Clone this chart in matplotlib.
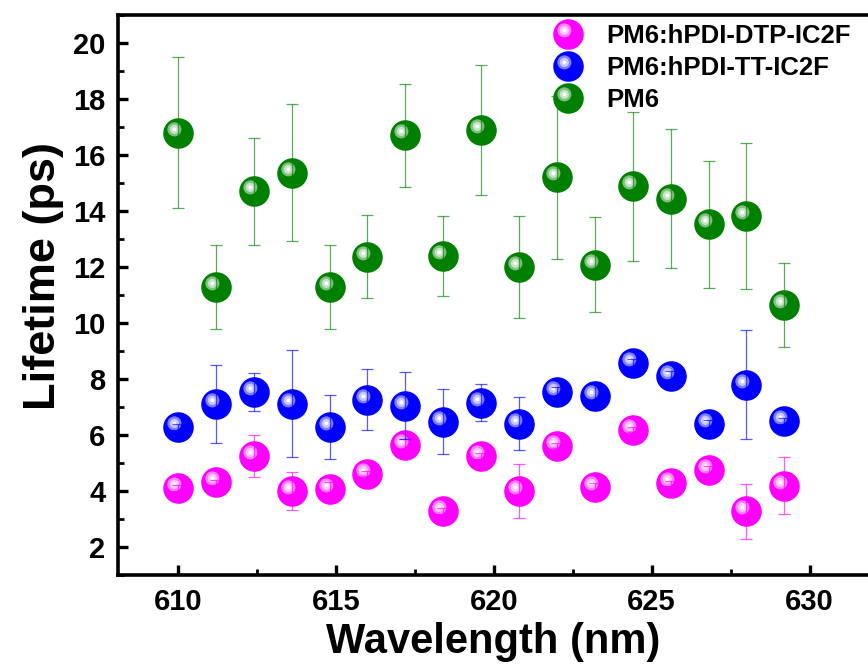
import numpy as np
import matplotlib
matplotlib.use("Agg")
import matplotlib.pyplot as plt
from matplotlib.path import Path
from matplotlib.legend_handler import HandlerTuple
from matplotlib.colors import to_rgb

plt.rcParams['font.family'] = ['Liberation Sans', 'DejaVu Sans']
plt.rcParams['font.weight'] = 'bold'

# ---------------- data ----------------
wavelength = [610.0, 611.2, 612.4, 613.6, 614.8, 616.0, 617.2, 618.4, 619.6,
              620.8, 622.0, 623.2, 624.4, 625.6, 626.8, 628.0, 629.2]

dtp_life = [4.11, 4.31, 5.25, 4.00, 4.08, 4.62, 5.65, 3.29, 5.25,
            4.01, 5.62, 4.13, 6.19, 4.27, 4.76, 3.27, 4.19]
dtp_err = [0.10, 0.10, 0.76, 0.67, 0.25, 0.10, 0.20, 0.10, 0.10,
           0.96, 0.10, 0.15, 0.10, 0.10, 0.15, 0.99, 1.02]

tt_life = [6.29, 7.11, 7.54, 7.12, 6.29, 7.26, 7.05, 6.48, 7.16,
           6.41, 7.55, 7.39, 8.58, 8.12, 6.40, 7.80, 6.51]
tt_err = [0.10, 1.39, 0.68, 1.90, 1.13, 1.08, 1.20, 1.15, 0.66,
          0.94, 0.15, 0.50, 0.15, 0.15, 0.15, 1.96, 0.10]

pm6_life = [16.80, 11.30, 14.70, 15.37, 11.30, 12.37, 16.70, 12.40, 16.90,
            12.00, 15.20, 12.08, 14.88, 14.44, 13.52, 13.83, 10.65]
pm6_err = [2.70, 1.50, 1.90, 2.45, 1.50, 1.48, 1.85, 1.43, 2.33,
           1.83, 2.90, 1.70, 2.65, 2.48, 2.27, 2.60, 1.50]

series = [
    ("PM6:hPDI-DTP-IC2F", dtp_life, dtp_err, "#ff00ff"),
    ("PM6:hPDI-TT-IC2F", tt_life, tt_err, "#0000ff"),
    ("PM6", pm6_life, pm6_err, "#008000"),
]


def spot(cx, cy, r):
    # offset circle marker; two corner moves fix the marker scale
    c = Path.circle((cx, cy), r)
    verts = np.vstack([[[-1, -1]], [[1, 1]], c.vertices])
    codes = [Path.MOVETO, Path.MOVETO] + list(c.codes)
    return Path(verts, codes)


def mix(col, f):
    c = np.array(to_rgb(col))
    return tuple(c + (1 - c) * f)


MS = 22
hl = [(0.46, 0.5), (0.30, 0.78), (0.13, 1.0)]

fig = plt.figure(figsize=(8.68, 6.69), dpi=100)
ax = fig.add_axes([118 / 868, 94 / 669, 750 / 868, 560 / 669])

handles = []
for label, y, e, col in series:
    parts = [ax.plot(wavelength, y, 'o', ms=MS, color=col, mew=0, zorder=3)[0]]
    for r, f in hl:
        parts.append(ax.plot(wavelength, y, ls='none', marker=spot(-0.27, 0.27, r),
                             ms=MS, color=mix(col, f), mew=0, zorder=4)[0])
    ax.errorbar(wavelength, y, yerr=e, fmt='none', ecolor=col, elinewidth=0.9,
                capsize=4.5, capthick=0.9, alpha=0.65, zorder=5)
    handles.append((tuple(parts), label))

ax.legend([h for h, _ in handles], [l for _, l in handles],
          handler_map={tuple: HandlerTuple(ndivide=1, pad=0)},
          loc='upper left', bbox_to_anchor=(0.5516, 1.002), frameon=False,
          fontsize=18.5, handletextpad=0.52, handlelength=2.0,
          labelspacing=0.3, borderaxespad=0)

ax.set_xlim(608.1, 631.85)
ax.set_ylim(1, 21)
ax.set_xticks([610, 615, 620, 625, 630])
ax.set_xticks([612.5, 617.5, 622.5, 627.5], minor=True)
ax.set_yticks(np.arange(2, 21, 2))
ax.set_yticks(np.arange(1, 22, 2), minor=True)

ax.spines['right'].set_visible(False)
for s in ['left', 'bottom', 'top']:
    ax.spines[s].set_linewidth(2.6)

ax.tick_params(which='major', direction='in', length=7, width=2.4, labelsize=21, pad=9)
ax.tick_params(which='minor', direction='in', length=4, width=2.0)
for t in ax.get_xticklabels() + ax.get_yticklabels():
    t.set_fontweight('bold')

ax.set_xlabel("Wavelength (nm)", fontsize=30, fontweight='bold', labelpad=5)
ax.set_ylabel("Lifetime (ps)", fontsize=32.5, fontweight='bold')
ax.yaxis.set_label_coords(-0.072, 0.534)

fig.savefig("out.png", dpi=100)
